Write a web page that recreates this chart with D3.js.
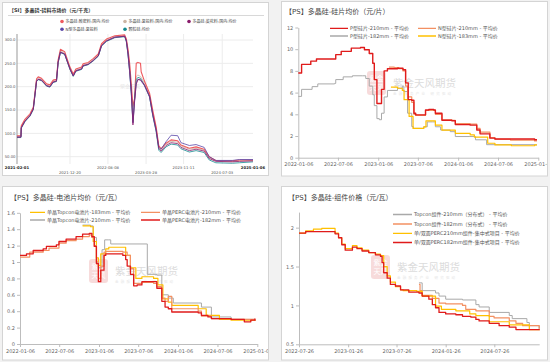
<!DOCTYPE html>
<html><head><meta charset="utf-8">
<script src="https://cdn.jsdelivr.net/npm/d3@7"></script>
<style>
html,body{margin:0;padding:0;background:#f2f2f2;}
svg{display:block;}
text{font-family:"DejaVu Sans","Noto Sans CJK SC",sans-serif;}
</style></head><body>
<svg id="c" width="550" height="362"></svg>
<script>
// ---------- Panel 1: 多晶硅-硅料市场价 (元/千克) ----------
const si_names = ["多晶硅:致密料:国内:均价","多晶硅:复投料:国内:均价","多晶硅:菜花料:国内:均价","N型多晶硅:复投料","颗粒硅:均价"];
const si_xticks = ["2021-02-01","2021-12-20","2022-08-08","2023-03-28","2023-11-11","2024-07-03","2025-01-06"];
const si_yticks = [50,100,150,200,250,300];
const si_red = [["2021-02-01",95],["2021-02-25",95],["2021-02-27",116],["2021-03-21",130],["2021-04-21",142],["2021-05-11",156],["2021-05-31",217],["2021-06-10",221],["2021-06-30",218],["2021-07-31",206],["2021-08-20",204],["2021-09-09",214],["2021-09-29",216],["2021-10-09",257],["2021-10-23",280],["2021-11-18",275],["2021-12-20",242],["2022-01-09",227],["2022-01-25",238],["2022-03-01",242],["2022-03-10",249],["2022-04-10",252],["2022-05-10",260],["2022-06-10",270],["2022-06-30",292],["2022-07-30",302],["2022-09-19",309],["2022-11-18",311],["2022-11-28",302],["2022-12-08",280],["2022-12-18",250],["2022-12-28",205],["2023-01-07",158],["2023-01-17",175],["2023-01-27",250],["2023-02-06",252],["2023-02-22",250],["2023-02-26",232],["2023-03-18",212],["2023-04-18",186],["2023-05-08",148],["2023-05-28",114],["2023-06-13",74],["2023-06-27",67],["2023-07-27",79],["2023-08-27",86],["2023-10-06",84],["2023-10-26",75],["2023-12-16",68],["2024-01-26",71],["2024-03-15",66],["2024-04-15",50],["2024-05-25",42],["2024-09-03",41],["2024-10-15",43],["2025-01-06",43]];
const si_tan = [["2021-02-01",94],["2021-02-25",94],["2021-02-27",114],["2021-03-21",128],["2021-04-21",140],["2021-05-11",154],["2021-05-31",215],["2021-06-10",219],["2021-06-30",216],["2021-07-31",204],["2021-08-20",202],["2021-09-09",212],["2021-09-29",214],["2021-10-09",255],["2021-10-23",277],["2021-11-18",272],["2021-12-20",240],["2022-01-09",225],["2022-01-25",236],["2022-03-01",240],["2022-03-10",247],["2022-04-10",250],["2022-05-10",258],["2022-06-10",268],["2022-06-30",290],["2022-07-30",300],["2022-09-19",307],["2022-11-18",309],["2022-11-28",300],["2022-12-08",276],["2022-12-18",242],["2022-12-28",196],["2023-01-07",135],["2023-01-17",172],["2023-01-27",222],["2023-02-06",225],["2023-02-22",222],["2023-03-18",208],["2023-04-18",183],["2023-05-08",144],["2023-05-28",111],["2023-06-13",71],["2023-06-27",65],["2023-07-27",77],["2023-08-27",83],["2023-10-06",81],["2023-10-26",73],["2023-12-16",66],["2024-01-26",68],["2024-03-15",64],["2024-04-15",48],["2024-05-25",41],["2024-09-03",40],["2024-10-15",41],["2025-01-06",42]];
const si_purple = [["2021-02-01",92],["2021-02-25",92],["2021-02-27",112],["2021-03-21",126],["2021-04-21",138],["2021-05-11",152],["2021-05-31",212],["2021-06-10",216],["2021-06-30",214],["2021-07-31",202],["2021-08-20",200],["2021-09-09",210],["2021-09-29",212],["2021-10-09",252],["2021-10-23",274],["2021-11-18",270],["2021-12-20",238],["2022-01-09",223],["2022-01-25",234],["2022-03-01",238],["2022-03-10",245],["2022-04-10",248],["2022-05-10",256],["2022-06-10",266],["2022-06-30",288],["2022-07-30",298],["2022-09-19",306],["2022-11-18",308],["2022-11-28",298],["2022-12-08",272],["2022-12-18",235],["2022-12-28",190],["2023-01-07",118],["2023-01-17",170],["2023-01-27",205],["2023-02-06",215],["2023-02-22",215],["2023-03-18",204],["2023-04-18",180],["2023-05-08",140],["2023-05-28",108],["2023-06-13",68],["2023-06-27",62],["2023-07-27",74],["2023-08-27",80],["2023-10-06",78],["2023-10-26",70],["2023-12-16",63],["2024-01-26",66],["2024-03-15",62],["2024-04-15",46],["2024-05-25",40],["2024-09-03",39],["2024-10-15",40],["2025-01-06",41]];
const si_indigo = [["2021-02-01",92],["2021-02-25",92],["2021-02-27",112],["2021-03-21",126],["2021-04-21",138],["2021-05-11",152],["2021-05-31",212],["2021-06-10",216],["2021-06-30",214],["2021-07-31",202],["2021-08-20",200],["2021-09-09",210],["2021-09-29",212],["2021-10-09",252],["2021-10-23",274],["2021-11-18",270],["2021-12-20",238],["2022-01-09",223],["2022-01-25",234],["2022-03-01",238],["2022-03-10",245],["2022-04-10",248],["2022-05-10",256],["2022-06-10",266],["2022-06-30",288],["2022-07-30",298],["2022-09-19",306],["2022-11-18",308],["2022-11-28",298],["2022-12-08",268],["2022-12-18",232],["2022-12-28",186],["2023-01-07",122],["2023-01-17",168],["2023-01-27",208],["2023-02-06",216],["2023-02-22",214],["2023-03-18",202],["2023-04-18",178],["2023-05-08",138],["2023-05-28",106],["2023-06-13",70],["2023-06-27",66],["2023-07-27",82],["2023-08-27",96],["2023-10-06",95],["2023-10-26",80],["2023-12-16",74],["2024-01-26",76],["2024-03-15",70],["2024-04-15",50],["2024-05-25",42],["2024-09-03",42],["2024-10-15",44],["2025-01-06",44]];
const si_teal = [["2021-02-01",91],["2021-02-25",91],["2021-02-27",111],["2021-03-21",125],["2021-04-21",137],["2021-05-11",151],["2021-05-31",211],["2021-06-10",215],["2021-06-30",213],["2021-07-31",201],["2021-08-20",199],["2021-09-09",209],["2021-09-29",211],["2021-10-09",251],["2021-10-23",273],["2021-11-18",269],["2021-12-20",237],["2022-01-09",222],["2022-01-25",233],["2022-03-01",237],["2022-03-10",244],["2022-04-10",247],["2022-05-10",255],["2022-06-10",265],["2022-06-30",287],["2022-07-30",297],["2022-09-19",305],["2022-11-18",307],["2022-11-28",296],["2022-12-08",270],["2022-12-18",232],["2022-12-28",185],["2023-01-07",124],["2023-01-17",175],["2023-01-27",215],["2023-02-06",220],["2023-02-22",218],["2023-03-18",203],["2023-04-18",178],["2023-05-08",137],["2023-05-28",104],["2023-06-13",64],["2023-06-27",59],["2023-07-27",71],["2023-08-27",77],["2023-10-06",75],["2023-10-26",67],["2023-12-16",60],["2024-01-26",63],["2024-03-15",59],["2024-04-15",43],["2024-05-25",37],["2024-09-03",36],["2024-10-15",37],["2025-01-06",39]];

// ---------- Panel 2: 硅片均价 (元/片) ----------
const wf_names = ["P型硅片-210mm - 平均价","N型硅片-210mm - 平均价","P型硅片-182mm - 平均价","N型硅片-183mm - 平均价"];
const wf_xticks = ["2022-01-06","2022-07-06","2023-01-06","2023-07-06","2024-01-06","2024-07-06","2025-01-06"];
const wf_yticks = [0,2,4,6,8,10,12];
const wf_p210 = [["2022-01-06",7.8],["2022-01-21",8.6],["2022-03-04",8.9],["2022-03-30",9.1],["2022-06-26",9.5],["2022-07-21",9.8],["2022-09-05",10.1],["2022-10-17",10.15],["2022-11-04",9.95],["2022-11-26",9.6],["2022-12-12",8.7],["2022-12-19",7.2],["2022-12-31",5.0],["2023-01-21",6.3],["2023-02-02",8.0],["2023-02-17",8.2],["2023-04-04",8.25],["2023-04-29",8.1],["2023-05-11",6.9],["2023-05-23",5.35],["2023-06-08",5.3],["2023-06-18",4.1],["2023-06-26",3.95],["2023-08-10",4.4],["2023-08-25",4.45],["2023-09-17",4.4],["2023-09-24",4.1],["2023-10-24",3.45],["2023-12-08",3.4],["2023-12-24",3.05],["2024-03-01",3.0],["2024-03-31",2.55],["2024-04-15",2.2],["2024-05-30",1.8],["2024-06-22",1.72],["2024-12-20",1.65],["2024-12-31",1.65]];
const wf_n210 = [["2023-02-24",8.35],["2023-03-20",8.3],["2023-04-10",8.2],["2023-04-29",8.0],["2023-05-11",6.6],["2023-05-20",5.6],["2023-06-08",5.1],["2023-06-18",4.0],["2023-06-26",3.9],["2023-08-10",4.35],["2023-09-17",4.35],["2023-09-24",4.0],["2023-10-24",3.5],["2023-12-08",3.45],["2023-12-24",3.15],["2024-03-01",3.1],["2024-03-31",2.7],["2024-04-15",2.35],["2024-05-30",1.85],["2024-06-22",1.7],["2024-09-01",1.62],["2024-12-20",1.55],["2024-12-31",1.55]];
const wf_p182 = [["2022-01-06",5.65],["2022-01-21",6.3],["2022-03-10",6.55],["2022-04-05",6.8],["2022-06-21",6.85],["2022-06-26",7.2],["2022-07-30",7.45],["2022-09-10",7.55],["2022-10-25",7.55],["2022-11-10",7.3],["2022-11-26",6.6],["2022-12-12",5.8],["2022-12-19",4.8],["2022-12-31",3.6],["2023-01-11",3.5],["2023-01-21",4.1],["2023-02-02",5.6],["2023-02-17",6.2],["2023-04-04",6.4],["2023-04-26",6.6],["2023-05-03",6.1],["2023-05-20",4.1],["2023-06-08",2.87],["2023-06-15",2.7],["2023-08-02",2.85],["2023-08-18",3.3],["2023-09-10",3.3],["2023-09-24",2.85],["2023-10-18",2.55],["2023-12-01",2.4],["2023-12-24",1.95],["2024-02-25",1.95],["2024-03-25",1.65],["2024-05-15",1.2],["2024-12-20",1.18],["2024-12-31",1.18]];
const wf_n183 = [["2023-03-05",6.5],["2023-04-04",6.4],["2023-04-26",6.2],["2023-05-04",5.35],["2023-05-27",3.8],["2023-06-14",2.7],["2023-08-02",2.85],["2023-08-12",3.4],["2023-09-17",3.4],["2023-09-24",3.0],["2023-10-24",2.55],["2023-12-24",2.25],["2024-03-01",2.1],["2024-03-20",1.9],["2024-05-20",1.33],["2024-06-22",1.18],["2024-09-05",1.1],["2024-12-20",1.18],["2024-12-31",1.18]];

// ---------- Panel 3: 电池片均价 (元/瓦) ----------
const cell_names = ["单晶Topcon电池片-183mm - 平均价","单晶PERC电池片-210mm - 平均价","单晶Topcon电池片-210mm - 平均价","单晶PERC电池片-182mm - 平均价"];
const cell_xticks = wf_xticks;
const cell_yticks = [0,0.2,0.4,0.6,0.8,1,1.2,1.4,1.6];
const cell_perc182 = [["2022-01-06",1.08],["2022-02-05",1.1],["2022-03-08",1.14],["2022-04-23",1.16],["2022-05-08",1.19],["2022-06-23",1.21],["2022-07-05",1.25],["2022-08-07",1.28],["2022-09-22",1.31],["2022-10-22",1.34],["2022-11-22",1.35],["2022-12-04",1.31],["2022-12-15",1.19],["2022-12-25",0.98],["2023-01-03",0.76],["2023-01-14",0.9],["2023-01-29",1.08],["2023-02-06",1.1],["2023-04-26",1.08],["2023-05-09",1.03],["2023-05-16",0.95],["2023-05-31",0.85],["2023-06-15",0.71],["2023-07-01",0.72],["2023-07-23",0.76],["2023-09-15",0.76],["2023-09-30",0.68],["2023-10-23",0.52],["2023-11-07",0.45],["2023-11-22",0.43],["2023-12-08",0.39],["2024-04-08",0.38],["2024-04-23",0.35],["2024-05-23",0.33],["2024-06-08",0.31],["2024-09-07",0.3],["2024-11-07",0.27],["2024-12-07",0.29],["2024-12-26",0.31]];
const cell_perc210 = [["2022-01-06",1.06],["2022-02-20",1.12],["2022-04-23",1.14],["2022-05-20",1.17],["2022-06-23",1.17],["2022-07-05",1.23],["2022-08-07",1.26],["2022-09-22",1.28],["2022-10-22",1.31],["2022-11-22",1.33],["2022-12-04",1.3],["2022-12-15",1.2],["2022-12-25",1.0],["2023-01-03",0.8],["2023-01-14",0.95],["2023-01-29",1.12],["2023-02-06",1.13],["2023-04-26",1.12],["2023-05-16",1.08],["2023-05-31",0.92],["2023-06-15",0.74],["2023-07-23",0.75],["2023-09-15",0.74],["2023-09-30",0.7],["2023-10-23",0.56],["2023-11-07",0.52],["2023-11-22",0.58],["2023-12-08",0.43],["2024-04-08",0.4],["2024-04-23",0.34],["2024-06-08",0.31],["2024-09-07",0.3],["2024-12-26",0.28]];
const cell_top210 = [["2022-10-22",1.45],["2022-11-28",1.44],["2022-12-10",1.3],["2022-12-25",1.0],["2023-01-03",0.93],["2023-01-20",1.15],["2023-02-01",1.27],["2023-02-20",1.27],["2023-03-01",1.22],["2023-08-15",1.22],["2023-08-17",0.85],["2023-09-30",0.84],["2023-10-23",0.6],["2023-11-22",0.56],["2023-12-15",0.5],["2024-04-08",0.5],["2024-04-23",0.45],["2024-06-08",0.33],["2024-09-07",0.3],["2024-12-26",0.28]];
const cell_top183 = [["2022-10-22",1.44],["2022-11-28",1.43],["2022-12-10",1.25],["2022-12-25",1.05],["2023-01-03",0.96],["2023-01-14",1.1],["2023-02-06",1.16],["2023-02-20",1.18],["2023-04-20",1.18],["2023-05-09",1.08],["2023-05-31",0.93],["2023-06-25",0.8],["2023-07-23",0.82],["2023-09-15",0.8],["2023-10-05",0.72],["2023-10-28",0.55],["2023-11-22",0.51],["2023-12-08",0.47],["2024-03-30",0.47],["2024-04-08",0.43],["2024-05-15",0.35],["2024-07-15",0.3],["2024-09-07",0.29],["2024-12-26",0.28]];

// ---------- Panel 4: 组件价格 (元/瓦) ----------
const mod_names = ["Topcon组件-210mm（分布式） - 平均价","Topcon组件-182mm（分布式） - 平均价","单/双面PERC210mm组件-集中式项目 - 平均价","单/双面PERC182mm组件-集中式项目 - 平均价"];
const mod_xticks = ["2022-07-26","2023-01-26","2023-07-26","2024-01-26","2024-07-26"];
const mod_yticks = [0.5,1,1.5,2];
const mod_top210 = [["2023-10-18",1.29],["2023-10-30",1.19],["2023-12-19",1.16],["2024-01-01",1.12],["2024-01-26",1.08],["2024-03-29",1.07],["2024-05-18",1.01],["2024-05-30",0.98],["2024-07-07",0.91],["2024-09-20",0.87],["2024-10-01",0.83],["2024-11-25",0.78],["2024-12-04",0.74],["2025-01-10",0.7]];
const mod_top182 = [["2023-10-18",1.27],["2023-10-22",1.19],["2023-10-30",1.13],["2023-12-07",1.09],["2024-01-01",1.03],["2024-01-26",1.02],["2024-03-29",1.0],["2024-04-10",0.95],["2024-05-18",0.93],["2024-07-07",0.86],["2024-07-25",0.84],["2024-09-20",0.8],["2024-10-15",0.77],["2024-11-09",0.74],["2025-01-10",0.7]];
const mod_perc210 = [["2022-07-26",1.93],["2022-08-20",1.96],["2022-09-18",1.98],["2022-10-19",1.99],["2022-12-02",1.99],["2022-12-08",1.93],["2022-12-21",1.87],["2023-01-02",1.79],["2023-01-15",1.73],["2023-02-11",1.77],["2023-02-28",1.74],["2023-03-19",1.71],["2023-04-13",1.68],["2023-05-08",1.66],["2023-05-27",1.64],["2023-06-08",1.5],["2023-06-21",1.38],["2023-07-03",1.3],["2023-07-22",1.24],["2023-08-10",1.2],["2023-08-20",1.19],["2023-10-10",1.18],["2023-10-30",1.12],["2023-12-19",0.99],["2024-01-10",0.95],["2024-03-04",0.93],["2024-04-25",0.89],["2024-05-18",0.87],["2024-07-07",0.79],["2024-09-20",0.75],["2024-12-04",0.69],["2025-01-10",0.68]];
const mod_perc182 = [["2022-07-26",1.93],["2022-08-20",1.95],["2022-12-02",1.95],["2022-12-08",1.92],["2022-12-21",1.87],["2023-01-02",1.78],["2023-01-15",1.71],["2023-01-27",1.71],["2023-02-11",1.75],["2023-02-28",1.73],["2023-03-19",1.7],["2023-04-13",1.68],["2023-05-08",1.65],["2023-05-27",1.63],["2023-06-02",1.55],["2023-06-08",1.42],["2023-06-21",1.35],["2023-07-03",1.27],["2023-07-22",1.25],["2023-08-10",1.2],["2023-09-10",1.17],["2023-10-18",1.16],["2023-10-30",1.12],["2023-11-24",1.08],["2023-12-07",1.01],["2023-12-19",0.97],["2024-01-01",0.91],["2024-01-26",0.89],["2024-03-04",0.88],["2024-03-29",0.86],["2024-04-29",0.85],["2024-05-18",0.82],["2024-05-30",0.8],["2024-07-07",0.77],["2024-08-13",0.74],["2024-09-20",0.72],["2024-10-15",0.69],["2024-12-04",0.69],["2025-01-10",0.68]];

// ---------- drawing ----------
const parse = d3.timeParse("%Y-%m-%d");
const fmtDate = d3.timeFormat("%Y-%m-%d");
const svg = d3.select("#c");
const defs = svg.append("defs");
const C = {red:"#e01b1b", orange:"#f39062", gray:"#a9a9a9", yellow:"#ffc000"};

function makeFrame(id, x, y, w, h){
  svg.append("rect").attr("x",x+0.5).attr("y",y+0.5).attr("width",w).attr("height",h)
    .attr("fill","#fff").attr("stroke","#d4d4d4");
  defs.append("clipPath").attr("id",id).append("rect").attr("x",x+1).attr("y",y+1).attr("width",w-1).attr("height",h-1);
  return svg.append("g").attr("clip-path",`url(#${id})`);
}
function watermark(g, x, y){
  g.append("rect").attr("x",x).attr("y",y-15).attr("width",19).attr("height",24).attr("rx",3)
    .attr("fill","#f4cccc").attr("opacity",0.7);
  g.append("text").attr("x",x+9.5).attr("y",y-5).attr("text-anchor","middle").attr("font-size",7)
    .attr("fill","#fff").text("紫金");
  g.append("text").attr("x",x+9.5).attr("y",y+4).attr("text-anchor","middle").attr("font-size",7)
    .attr("fill","#fff").text("天风");
  g.append("text").attr("x",x+26).attr("y",y+1).attr("font-size",10.5).attr("fill","#dcdcdc")
    .attr("font-family","Noto Sans CJK SC").text("紫金天风期货");
  g.append("text").attr("x",x+26).attr("y",y+9).attr("font-size",3.5).attr("fill","#e6e6e6")
    .attr("letter-spacing","2.2").text("金融服务产业 研究驱动");
}
function styleAxis(a){
  a.select(".domain").attr("stroke","#bdbdbd");
  a.selectAll(".tick line").attr("stroke","#bdbdbd");
  a.selectAll(".tick text").attr("fill","#666").attr("font-size",5).attr("font-family","DejaVu Sans");
}

// ---- Panel 1
(function(){
  const g = makeFrame("cp1", 2, 2, 266, 173);
  g.append("text").attr("x",9).attr("y",11.5).attr("font-size",5).attr("font-weight","bold")
    .attr("fill","#333").attr("font-family","Noto Sans CJK SC").text("【SI】多晶硅-硅料市场价（元/千克）");
  g.append("line").attr("x1",8).attr("x2",264).attr("y1",15.5).attr("y2",15.5).attr("stroke","#d8d8d8");
  const x = d3.scaleTime().domain([parse("2021-02-01"), parse("2025-01-06")]).range([17, 253]);
  const y = d3.scaleLinear().domain([50, 300]).range([156.7, 40]);
  const top = 34, bot = 164;
  si_yticks.forEach(v=>{
    g.append("line").attr("x1",17).attr("x2",253).attr("y1",y(v)).attr("y2",y(v)).attr("stroke","#ececec");
    g.append("text").attr("x",15.5).attr("y",y(v)+1.4).attr("text-anchor","end").attr("font-size",3.8)
      .attr("fill","#555").text(d3.format(".4r")(v));
  });
  si_xticks.forEach((d,i)=>{
    const xx = x(parse(d));
    if(i>0 && i<si_xticks.length-1) g.append("line").attr("x1",xx).attr("x2",xx).attr("y1",top).attr("y2",bot).attr("stroke","#ececec");
    g.append("text").attr("x",xx).attr("y", i%2===0 ? 168.6 : 174.2).attr("text-anchor","middle")
      .attr("font-size",3.8).attr("font-weight", (i===0||i===si_xticks.length-1)?"bold":"normal")
      .attr("fill", (i===0||i===si_xticks.length-1)?"#222":"#555").text(d);
  });
  g.append("line").attr("x1",17).attr("x2",17).attr("y1",top).attr("y2",bot).attr("stroke","#999");
  g.append("text").attr("x",120).attr("y",88).attr("font-size",5).attr("fill","#e6e6e6").text("紫金天风");
  const cols = ["#ee5a5e","#ccb5a3","#8a1c6c","#5a48a8","#14898e"];
  const series = [si_red, si_tan, si_purple, si_indigo, si_teal];
  const line = d3.line().x(d=>x(parse(d[0]))).y(d=>y(d[1]));
  const order = [1,0,4,3,2];
  order.forEach(i=>{
    g.append("path").datum(series[i]).attr("d",line).attr("fill","none").attr("stroke",cols[i])
      .attr("stroke-width", i===0?1.1:0.8).attr("stroke-linejoin","round");
  });
  const lpos = [[62,21.5],[125,21.5],[189,21.5],[62,29.2],[125,29.2]];
  si_names.forEach((n,i)=>{
    g.append("circle").attr("cx",lpos[i][0]).attr("cy",lpos[i][1]).attr("r",1.8).attr("fill",cols[i]);
    g.append("text").attr("x",lpos[i][0]+3.5).attr("y",lpos[i][1]+1.4).attr("font-size",4)
      .attr("fill","#444").attr("font-family","Noto Sans CJK SC").text(n);
  });
})();

// ---- Generic panel for 2-4
function linePanel(o){
  const g = makeFrame(o.id, o.fx, o.fy, o.fw, o.fh);
  g.append("text").attr("x",o.tx).attr("y",o.ty).attr("font-size",7).attr("fill","#444")
    .attr("font-family","Noto Sans CJK SC").text(o.title);
  watermark(g, o.wx, o.wy);
  const x = d3.scaleTime().domain(o.xdom.map(parse)).range(o.xr);
  const y = d3.scaleLinear().domain(o.ydom).range(o.yr);
  const ax = g.append("g").attr("transform",`translate(0,${o.yr[0]})`)
    .call(d3.axisBottom(x).tickValues(o.xticks.map(parse)).tickFormat(fmtDate).tickSize(3).tickSizeOuter(0).tickPadding(2));
  styleAxis(ax);
  const ay = g.append("g").attr("transform",`translate(${o.xr[0]},0)`)
    .call(d3.axisLeft(y).tickValues(o.yticks).tickFormat(d3.format("~g")).tickSize(3).tickSizeOuter(0).tickPadding(2));
  styleAxis(ay);
  const line = d3.line().x(d=>x(parse(d[0]))).y(d=>y(d[1])).curve(d3.curveStepAfter);
  o.draw.forEach(s=>{
    g.append("path").datum(s.data).attr("d",line).attr("fill","none").attr("stroke",s.color)
      .attr("stroke-width",s.w).attr("stroke-linejoin","round");
  });
  o.legend.forEach(l=>{
    g.append("line").attr("x1",l.x).attr("x2",l.x+l.len).attr("y1",l.y).attr("y2",l.y)
      .attr("stroke",l.color).attr("stroke-width",1.3);
    g.append("text").attr("x",l.x+l.len+2).attr("y",l.y+1.8).attr("font-size",5).attr("fill","#555")
      .attr("font-family","Noto Sans CJK SC").text(l.name);
  });
}

linePanel({
  id:"cp2", fx:281, fy:1, fw:266, fh:174.5, tx:285, ty:14, title:"【PS】多晶硅-硅片均价（元/片）",
  wx:367, wy:86,
  xdom:["2022-01-06","2025-01-06"], xr:[298.3,538.3], ydom:[0,12], yr:[157.7,27.5],
  xticks:wf_xticks, yticks:wf_yticks,
  draw:[{data:wf_p182,color:C.gray,w:1},{data:wf_n183,color:C.yellow,w:1.2},{data:wf_n210,color:C.orange,w:1.2},{data:wf_p210,color:C.red,w:1.4}],
  legend:[{x:330,y:28.3,len:18,color:C.red,name:wf_names[0]},{x:418,y:28.3,len:18,color:C.orange,name:wf_names[1]},
          {x:330,y:36,len:18,color:C.gray,name:wf_names[2]},{x:418,y:36,len:18,color:C.yellow,name:wf_names[3]}]
});

linePanel({
  id:"cp3", fx:2, fy:186, fw:266, fh:173.5, tx:10, ty:200, title:"【PS】多晶硅-电池片均价（元/瓦）",
  wx:89, wy:274,
  xdom:["2022-01-06","2025-01-06"], xr:[20,257.3], ydom:[0,1.6], yr:[344,212.8],
  xticks:cell_xticks, yticks:cell_yticks,
  draw:[{data:cell_top210,color:C.gray,w:1},{data:cell_top183,color:C.yellow,w:1.2},{data:cell_perc210,color:C.orange,w:1.2},{data:cell_perc182,color:C.red,w:1.3}],
  legend:[{x:30,y:212.3,len:15,color:C.yellow,name:cell_names[0]},{x:141,y:212.3,len:19,color:C.orange,name:cell_names[1]},
          {x:30,y:220,len:15,color:C.gray,name:cell_names[2]},{x:141,y:220,len:19,color:C.red,name:cell_names[3]}]
});

linePanel({
  id:"cp4", fx:281, fy:186, fw:266, fh:173.5, tx:288, ty:200, title:"【PS】多晶硅-组件价格（元/瓦）",
  wx:371, wy:270,
  xdom:["2022-07-26","2025-01-10"], xr:[299,539.2], ydom:[0.5,2.2], yr:[344.3,212.1],
  xticks:mod_xticks, yticks:mod_yticks,
  draw:[{data:mod_top210,color:C.gray,w:1},{data:mod_top182,color:C.orange,w:1.2},{data:mod_perc210,color:C.yellow,w:1.2},{data:mod_perc182,color:C.red,w:1.3}],
  legend:[{x:393,y:214.5,len:19,color:C.gray,name:mod_names[0]},{x:393,y:224,len:19,color:C.orange,name:mod_names[1]},
          {x:393,y:233.3,len:19,color:C.yellow,name:mod_names[2]},{x:393,y:242.5,len:19,color:C.red,name:mod_names[3]}]
});
</script>
</body></html>
